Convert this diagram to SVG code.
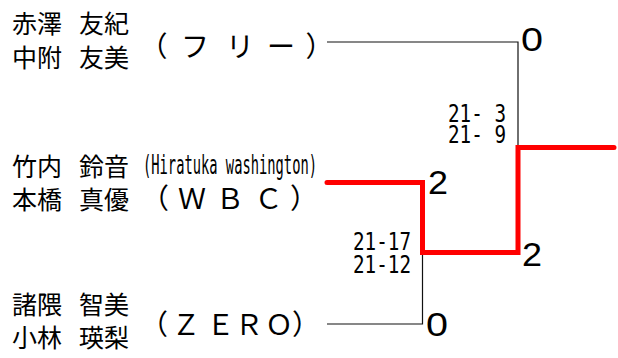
<svg xmlns="http://www.w3.org/2000/svg" width="618" height="358" viewBox="0 0 618 358">
<style>
.nm{font-family:"Noto Sans CJK JP","Noto Sans",sans-serif;font-size:25px;fill:#000}
.tm{font-family:"Noto Sans CJK JP","Noto Sans",sans-serif;font-size:28px;fill:#000;text-anchor:middle}
.sc{font-family:"Liberation Sans",Arial,sans-serif;font-size:33px;fill:#000}
.gs{font-family:"DejaVu Sans Mono","Liberation Mono",monospace;font-size:25px;fill:#000}
.hw{font-family:"DejaVu Sans Mono","Liberation Mono",monospace;font-size:26px;fill:#000}
.thin{fill:none;stroke:#111;stroke-width:1.2}
.win{fill:none;stroke:#ff0000;stroke-width:5;stroke-linecap:round;stroke-linejoin:miter}
</style>
<rect width="618" height="358" fill="#fff"/>
<g id="team-free">
<text class="nm" x="12" y="33">赤澤</text><text class="nm" x="79" y="33">友紀</text>
<text class="nm" x="12" y="67">中附</text><text class="nm" x="79" y="67">友美</text>
<text class="tm" x="153.5 195 240 281 319.5" y="57">（フリー）</text>
</g>
<g id="team-wbc">
<text class="nm" x="12" y="176">竹内</text><text class="nm" x="79" y="176">鈴音</text>
<text class="nm" x="12" y="209">本橋</text><text class="nm" x="79" y="209">真優</text>
<text class="hw" x="143" y="174" textLength="174" lengthAdjust="spacingAndGlyphs">(Hiratuka washington)</text>
<text class="tm" x="155 192 230 268.5 304" y="209">（ＷＢＣ）</text>
</g>
<g id="team-zero">
<text class="nm" x="12" y="314">諸隈</text><text class="nm" x="79" y="314">智美</text>
<text class="nm" x="12" y="347">小林</text><text class="nm" x="79" y="347">瑛梨</text>
<text class="tm" x="154 186 220.5 249 279 306" y="335">（ＺＥＲＯ）</text>
</g>
<g id="connectors">
<polyline class="thin" points="327,42 518,42 518,147"/>
<polyline class="thin" points="327,324 422.5,324 422.5,253"/>
<polyline class="win" points="327,182.5 422.5,182.5 422.5,252.5 518,252.5 518,147.5 614,147.5"/>
</g>
<g id="scores">
<text class="sc" x="521" y="51" textLength="22" lengthAdjust="spacingAndGlyphs">0</text>
<text class="sc" x="428" y="194" textLength="20" lengthAdjust="spacingAndGlyphs">2</text>
<text class="sc" x="522" y="266" textLength="20" lengthAdjust="spacingAndGlyphs">2</text>
<text class="sc" x="426" y="336" textLength="22" lengthAdjust="spacingAndGlyphs">0</text>
<text class="gs" x="448" y="122" textLength="58" lengthAdjust="spacingAndGlyphs">21- 3</text>
<text class="gs" x="448" y="143" textLength="58" lengthAdjust="spacingAndGlyphs">21- 9</text>
<text class="gs" x="353" y="250" textLength="58" lengthAdjust="spacingAndGlyphs">21-17</text>
<text class="gs" x="353" y="273" textLength="58" lengthAdjust="spacingAndGlyphs">21-12</text>
</g>
</svg>
